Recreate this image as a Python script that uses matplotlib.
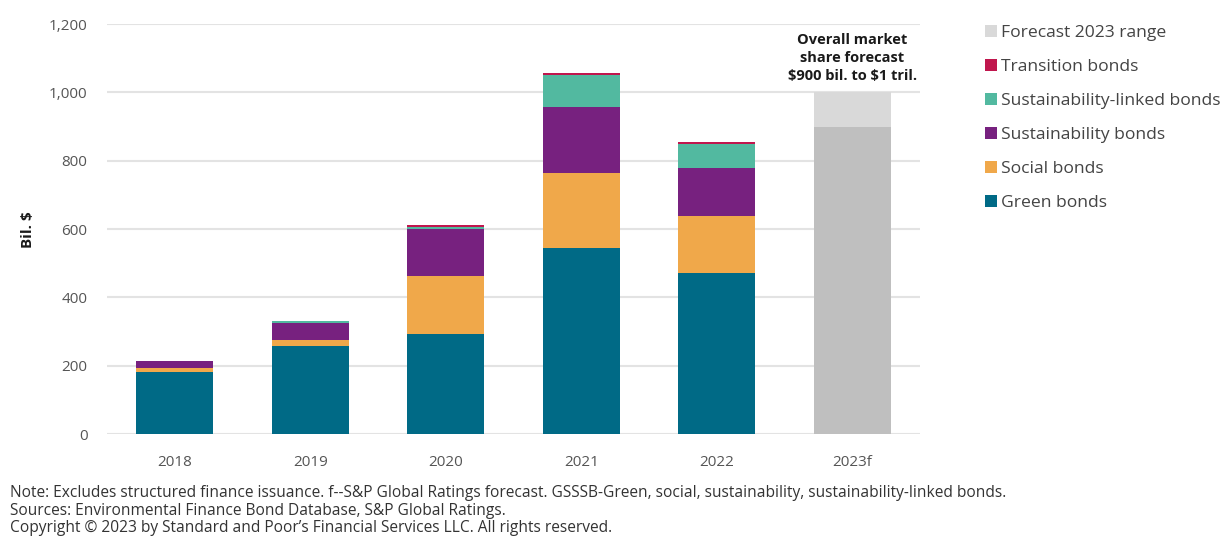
import numpy as np
import matplotlib.pyplot as plt

# Emisiones GSSSB por año (miles de millones de USD)
years = ['2018', '2019', '2020', '2021', '2022', '2023f']
green = [181, 258, 294, 546, 472, 0]
social = [13, 19, 168, 219, 166, 0]
sustainability = [20, 49, 137, 193, 141, 0]
sust_linked = [0, 4, 8, 94, 70, 0]
transition = [0, 1, 4, 6, 6, 0]
forecast_low = [0, 0, 0, 0, 0, 900]
forecast_high = [0, 0, 0, 0, 0, 1000]

yticks = [0, 200, 400, 600, 800, 1000, 1200]

plt.rcParams['font.family'] = ['Open Sans', 'DejaVu Sans']

fig = plt.figure(figsize=(12.3, 5.36), dpi=100)
ax = fig.add_axes([0.087, 0.19, 0.661, 0.765])

x = np.arange(len(years))
w = 0.57

series = [
    ('Green bonds', green, '#006A86'),
    ('Social bonds', social, '#F0A84A'),
    ('Sustainability bonds', sustainability, '#77217F'),
    ('Sustainability-linked bonds', sust_linked, '#52B9A0'),
    ('Transition bonds', transition, '#C0164D'),
]

bottom = np.zeros(len(years))
handles = []
for label, vals, color in series:
    b = ax.bar(x, vals, w, bottom=bottom, color=color, label=label, zorder=3)
    handles.append(b)
    bottom += np.array(vals)

# pronóstico 2023: base + rango
ax.bar(x, forecast_low, w, color='#BFBFBF', zorder=3)
rango = np.array(forecast_high) - np.array(forecast_low)
b = ax.bar(x, rango, w, bottom=forecast_low, color='#D9D9D9',
           label='Forecast 2023 range', zorder=3)
handles.append(b)

ax.text(x[-1], 1100, 'Overall market\nshare forecast\n\\$900 bil. to \\$1 tril.',
        ha='center', va='center', fontsize=10.5, fontweight='bold',
        color='#1a1a1a', linespacing=1.38, zorder=4,
        bbox=dict(facecolor='white', edgecolor='none', pad=1))

ax.set_xlim(-0.5, len(years) - 0.5)
ax.set_ylim(0, 1200)
ax.set_yticks(yticks)
ax.set_yticklabels([f'{v:,}' for v in yticks])
ax.set_xticks(x)
ax.set_xticklabels(years)
ax.tick_params(axis='both', length=0, labelsize=11, colors='#555555')
ax.tick_params(axis='x', pad=15)
ax.tick_params(axis='y', pad=14)
ax.grid(axis='y', color='#E3E3E3', linewidth=1.5, zorder=0)
for s in ax.spines.values():
    s.set_visible(False)
ax.set_ylabel('Bil. \\$', fontsize=11, fontweight='bold', color='#1a1a1a', labelpad=10)

leg = fig.legend(handles[::-1], [h.get_label() for h in handles[::-1]],
                 loc='upper left', bbox_to_anchor=(0.795, 0.967), frameon=False,
                 fontsize=12.6, handlelength=0.7, handleheight=0.7,
                 handletextpad=0.2, labelspacing=1.02, borderaxespad=0)
for t in leg.get_texts():
    t.set_color('#444444')

nota = ('Note: Excludes structured finance issuance. f--S&P Global Ratings forecast. '
        'GSSSB-Green, social, sustainability, sustainability-linked bonds.\n'
        'Sources: Environmental Finance Bond Database, S&P Global Ratings.\n'
        'Copyright \u00a9 2023 by Standard and Poor\u2019s Financial Services LLC. All rights reserved.')
fig.text(0.008, 0.0, nota, ha='left', va='bottom', fontsize=11.2,
         color='#333333', linespacing=1.12)

fig.savefig('out.png', dpi=100, facecolor='white')
